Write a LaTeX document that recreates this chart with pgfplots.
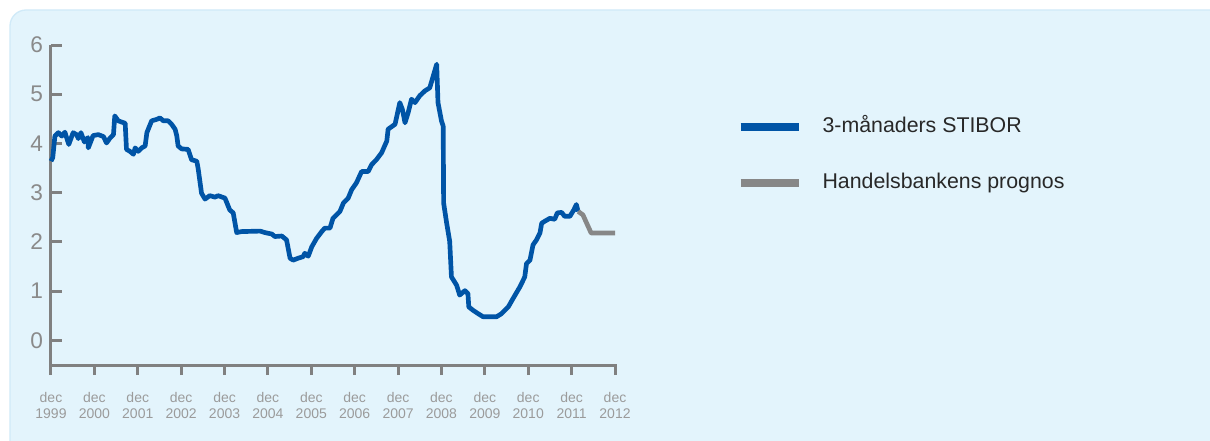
\documentclass[border=0pt]{standalone}
\usepackage{fontspec}
\setmainfont{Liberation Sans}
\usepackage{pgfplots}
\pgfplotsset{compat=1.18}

\definecolor{panel}{RGB}{227,244,252}
\definecolor{paneledge}{RGB}{208,234,248}
\definecolor{stibor}{RGB}{0,84,166}
\definecolor{prognos}{RGB}{135,135,135}
\definecolor{axisgray}{RGB}{128,128,128}
\definecolor{ylabgray}{RGB}{138,138,138}
\definecolor{xlabgray}{RGB}{155,155,155}
\definecolor{legtext}{RGB}{40,40,40}

\begin{document}
\begin{tikzpicture}
\path[use as bounding box] (0,0) rectangle (907.5pt,330pt);
% ljusblå panel bakom diagrammet
\filldraw[fill=panel, draw=paneledge, line width=1pt, rounded corners=12pt]
  (7.5pt,-20pt) rectangle (930pt,322.5pt);
\begin{axis}[
    at={(38.25pt,56.25pt)}, anchor=south west,
    scale only axis, width=423pt, height=240pt,
    xmin=0, xmax=13, ymin=-0.5, ymax=6,
    axis lines*=left,
    clip=false,
    axis line style={axisgray, line width=2.25pt},
    tick align=inside,
    major tick length=8.25pt,
    every tick/.style={axisgray, line width=2.25pt},
    xtick style={yshift=-7.5pt},
    xtick={0,...,13},
    xticklabels={{dec\\1999},{dec\\2000},{dec\\2001},{dec\\2002},{dec\\2003},{dec\\2004},{dec\\2005},
                 {dec\\2006},{dec\\2007},{dec\\2008},{dec\\2009},{dec\\2010},{dec\\2011},{dec\\2012}},
    xticklabel style={font=\fontsize{10.5}{12}\selectfont, text=xlabgray, align=center, yshift=-17pt},
    ytick={0,...,6},
    yticklabel style={font=\fontsize{17}{20}\selectfont, text=ylabgray, xshift=-2.5pt},
    /pgf/number format/assume math mode=true,
    legend style={at={(1.208,0.787)}, anchor=north west, draw=none, fill=none,
        font=\fontsize{16}{19}\selectfont, text=legtext,
        row sep=26.5pt,
        nodes={inner sep=0pt, text height=12pt, text depth=4pt},
        /tikz/every odd column/.append style={column sep=15pt}},
    legend cell align=left,
    legend image code/.code={\draw[line width=6pt] (0pt,0pt) -- (43.5pt,0pt);},
]
\addplot[stibor, line width=3.5pt, line join=round] coordinates {
(0.00,3.64)(0.04,3.71)(0.09,4.15)(0.17,4.22)(0.25,4.15)(0.32,4.23)(0.41,3.98)(0.51,4.22)
(0.59,4.18)(0.63,4.10)(0.69,4.22)(0.77,4.03)(0.85,4.12)(0.86,3.91)(0.97,4.16)(1.09,4.18)
(1.21,4.14)(1.28,4.01)(1.36,4.11)(1.44,4.18)(1.47,4.56)(1.55,4.46)(1.71,4.41)(1.74,3.88)
(1.82,3.84)(1.90,3.78)(1.94,3.91)(2.01,3.84)(2.09,3.91)(2.17,3.95)(2.21,4.22)(2.32,4.46)
(2.44,4.49)(2.51,4.52)(2.59,4.46)(2.70,4.46)(2.78,4.39)(2.86,4.29)(2.90,4.15)(2.93,3.95)
(3.01,3.89)(3.16,3.88)(3.24,3.67)(3.36,3.64)(3.39,3.50)(3.47,2.99)(3.55,2.87)(3.66,2.94)
(3.78,2.91)(3.85,2.94)(4.01,2.89)(4.12,2.65)(4.20,2.59)(4.28,2.19)(4.39,2.21)(4.82,2.22)
(4.93,2.19)(5.09,2.16)(5.16,2.11)(5.32,2.12)(5.43,2.04)(5.51,1.67)(5.58,1.63)(5.70,1.67)
(5.81,1.70)(5.85,1.77)(5.93,1.71)(6.01,1.90)(6.12,2.07)(6.24,2.21)(6.31,2.28)(6.43,2.28)
(6.50,2.48)(6.66,2.62)(6.74,2.79)(6.85,2.89)(6.93,3.06)(7.04,3.20)(7.16,3.43)(7.31,3.43)
(7.39,3.57)(7.50,3.67)(7.62,3.81)(7.74,4.05)(7.77,4.29)(7.93,4.39)(8.04,4.83)(8.10,4.69)
(8.16,4.42)(8.23,4.62)(8.31,4.90)(8.39,4.83)(8.50,4.97)(8.62,5.07)(8.73,5.13)(8.81,5.37)
(8.89,5.61)(8.92,4.83)(9.00,4.46)(9.04,4.35)(9.05,2.79)(9.12,2.38)(9.19,2.01)(9.23,1.29)
(9.35,1.12)(9.42,0.92)(9.54,1.01)(9.61,0.95)(9.63,0.68)(9.73,0.61)(9.85,0.54)(9.96,0.48)
(10.27,0.48)(10.38,0.54)(10.54,0.68)(10.65,0.85)(10.81,1.09)(10.92,1.29)(10.96,1.56)(11.04,1.63)
(11.11,1.94)(11.19,2.04)(11.27,2.18)(11.31,2.38)(11.38,2.42)(11.50,2.48)(11.61,2.46)(11.67,2.59)
(11.77,2.60)(11.84,2.52)(11.96,2.52)(12.05,2.65)(12.11,2.76)(12.15,2.62)
};
\addlegendentry{3-månaders STIBOR}
\addplot[prognos, line width=3.5pt, line join=round] coordinates {
(12.15,2.62)(12.26,2.55)(12.45,2.18)(13.00,2.18)
};
\addlegendentry{Handelsbankens prognos}
\end{axis}
\end{tikzpicture}
\end{document}
